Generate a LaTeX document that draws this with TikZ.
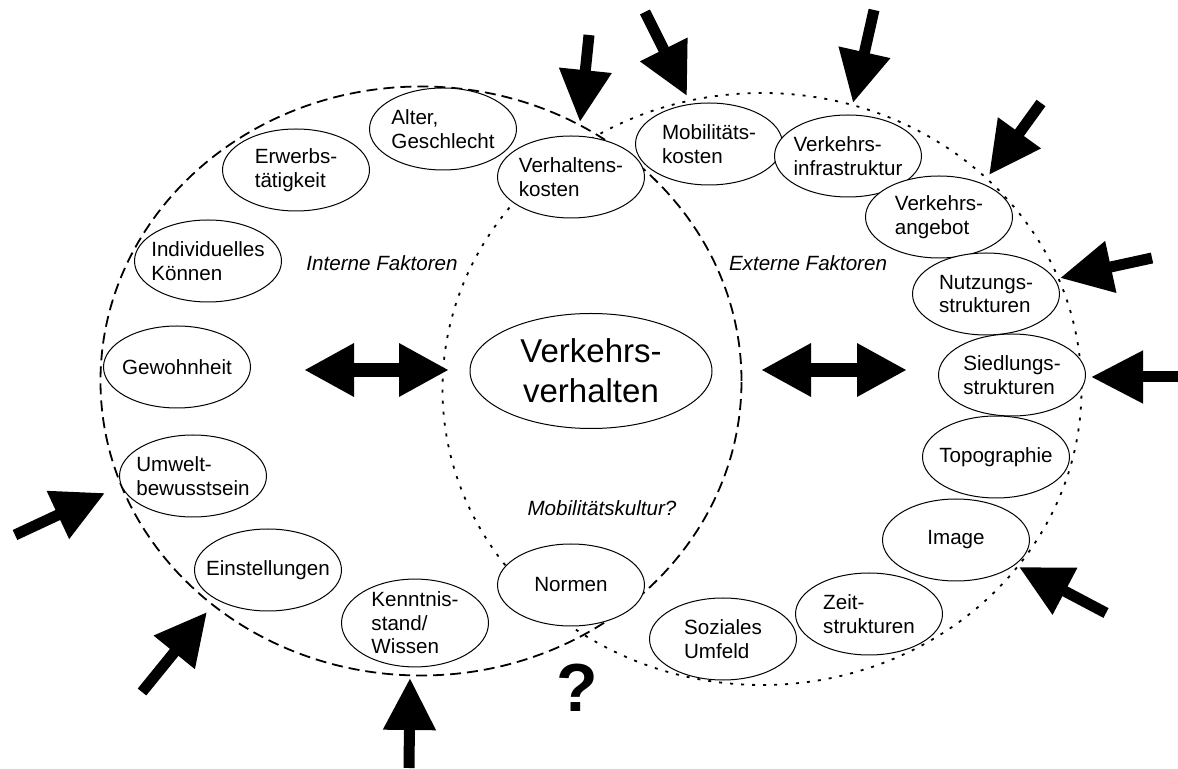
\documentclass[tikz,border=0pt]{standalone}
\usepackage{fontspec}
\setmainfont{Liberation Sans}
\usetikzlibrary{shapes.geometric,arrows.meta}
\begin{document}
\begin{tikzpicture}[x=0.5pt,y=-0.5pt,
  factor/.style={ellipse,draw,fill=white,line width=0.5pt,inner xsep=-15pt,inner ysep=0pt,
    minimum width=73.5pt,minimum height=41pt,align=left,
    font=\fontsize{10.3}{11.75}\selectfont},
  region/.style={ellipse,inner sep=0pt,line width=0.9pt},
  interndash/.style={dash pattern=on 5.5pt off 3pt},
  externdot/.style={dash pattern=on 1.5pt off 4pt},
  label/.style={font=\fontsize{10.3}{12}\selectfont\itshape},
  influence/.style={line width=5.5pt,-{Triangle[length=26pt,width=25pt]}},
  exchange/.style={line width=7pt,{Triangle[length=25pt,width=25pt]}-{Triangle[length=25pt,width=25pt]}}
]
\useasboundingbox[fill=white] (0,0) rectangle (1178,769);

% the two overlapping groups of factors
\node[region,draw,interndash,minimum width=320.5pt,minimum height=294.5pt] (intern) at (421,381) {};
\node[region,draw,externdot,minimum width=319.5pt,minimum height=296pt] (extern) at (762,389) {};

% central behaviour
\node[ellipse,draw,fill=white,line width=0.5pt,inner sep=0pt,minimum width=121pt,minimum height=57.5pt,
  align=center,font=\fontsize{16.5}{20}\selectfont] (verhalten) at (591,371) {Verkehrs-\\verhalten};

% internal factors
\node[factor] (alter) at (443,129) {Alter,\\Geschlecht};
\node[factor] (erwerb) at (296,170) {Erwerbs-\\tätigkeit};
\node[factor] (indiv) at (208,261) {Individuelles\\Können};
\node[factor] (gewohn) at (177,367) {Gewohnheit};
\node[factor] (umwelt) at (193,476) {Umwelt-\\bewusstsein};
\node[factor] (einst) at (268,570) {Einstellungen};
\node[factor] (kenntnis) at (415,623) {Kenntnis-\\stand/\\Wissen};

% shared factors
\node[factor] (verhk) at (571,177) {Verhaltens-\\kosten};
\node[factor] (normen) at (571,585) {Normen};

% external factors
\node[factor] (mobk) at (709,144) {Mobilitäts-\\kosten};
\node[factor] (infra) at (848,156) {Verkehrs-\\infrastruktur};
\node[factor] (angebot) at (939,217) {Verkehrs-\\angebot};
\node[factor] (nutzung) at (986,294) {Nutzungs-\\strukturen};
\node[factor] (siedlung) at (1012,375) {Siedlungs-\\strukturen};
\node[factor] (topo) at (996,457) {Topographie};
\node[factor] (image) at (956,540) {Image};
\node[factor] (zeit) at (869,614) {Zeit-\\strukturen};
\node[factor] (sozial) at (723,639) {Soziales\\Umfeld};

% group labels
\node[label] (internlabel) at (382,263) {Interne Faktoren};
\node[label] (externlabel) at (808,263) {Externe Faktoren};
\node[label] (kultur) at (602,508) {Mobilitätskultur?};
\node[font=\fontsize{34}{40}\selectfont\bfseries] (frage) at (577,688) {?};

% exchange between the groups and the behaviour
\coordinate (li) at (304,370); \coordinate (lv) at (449,370);
\coordinate (rv) at (761,370); \coordinate (re) at (907,370);
\draw[exchange] (li) -- (lv);
\draw[exchange] (rv) -- (re);

% outside influences
\coordinate (s1) at (589,35);   \coordinate (t1) at (580,122);
\coordinate (s2) at (645,12);   \coordinate (t2) at (687,96);
\coordinate (s3) at (874,10);   \coordinate (t3) at (853,103);
\coordinate (s4) at (1041,103); \coordinate (t4) at (989,175);
\coordinate (s5) at (1152,258); \coordinate (t5) at (1060,278);
\coordinate (s6) at (1178,377); \coordinate (t6) at (1091,377);
\coordinate (s7) at (1106,613); \coordinate (t7) at (1019,567);
\coordinate (s8) at (409,768);  \coordinate (t8) at (410,678);
\coordinate (s9) at (142,692);  \coordinate (t9) at (207,612);
\coordinate (s10) at (15,535);  \coordinate (t10) at (105,493);
\foreach \i in {1,...,10} \draw[influence] (s\i) -- (t\i);
\end{tikzpicture}
\end{document}
